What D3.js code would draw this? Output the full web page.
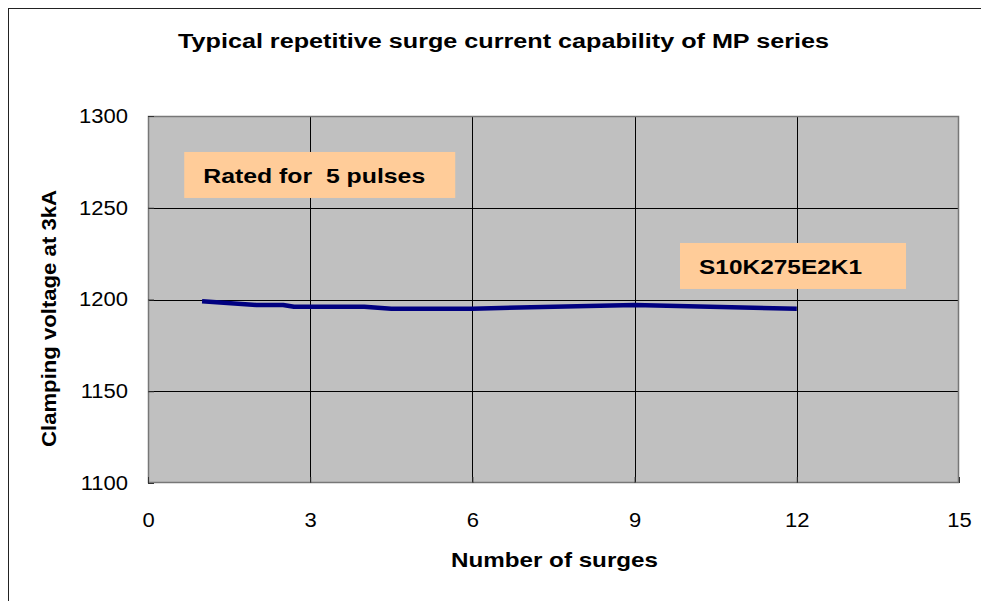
<!DOCTYPE html>
<html>
<head>
<meta charset="utf-8">
<script src="https://cdn.jsdelivr.net/npm/d3@7"></script>
<style>
    body { margin: 0; background: #fff; }
    svg text { font-family: Arial, "Liberation Sans", sans-serif; fill: #000; }
</style>
</head>
<body>
<svg width="981" height="601"></svg>
<script>
'use strict';

///////////////////////////// data ///////////////////////////
var surges = [1, 2, 2.5, 2.7, 4, 4.5, 6, 9, 12];
var clampVoltage = [1199, 1197, 1197, 1196, 1196, 1195, 1195, 1197, 1195];
var xTicks = [0, 3, 6, 9, 12, 15];
var yTicks = [1100, 1150, 1200, 1250, 1300];
var titleText = 'Typical repetitive surge current capability of MP series';
var xLabel = 'Number of surges';
var yLabel = 'Clamping voltage at 3kA';
var notes = [
    {text: 'Rated for  5 pulses', x: 0.67, y: 1280.4},
    {text: 'S10K275E2K1', x: 9.84, y: 1230.8}
];

///////////////////////////// set up ///////////////////////////
var svg = d3.select('svg');
var plotLeft = 148, plotRight = 959, plotTop = 116, plotBottom = 483;

var x = d3.scaleLinear().domain([0, 15]).range([plotLeft, plotRight]);
var y = d3.scaleLinear().domain([1100, 1300]).range([plotBottom, plotTop]);

// outer chart border (runs off the right/bottom edge)
svg.append('rect')
    .attr('x', 8.5).attr('y', 8.5)
    .attr('width', 1000).attr('height', 1000)
    .attr('fill', 'none')
    .attr('stroke', '#222')
    .attr('stroke-width', 1);

// plot area
svg.append('rect')
    .attr('x', plotLeft).attr('y', plotTop)
    .attr('width', plotRight - plotLeft).attr('height', plotBottom - plotTop)
    .attr('fill', '#c0c0c0');

// grid
svg.append('g')
    .selectAll('line')
    .data(xTicks.slice(1, -1))
    .enter().append('line')
    .attr('x1', function(d) { return Math.round(x(d)) + 0.5; })
    .attr('x2', function(d) { return Math.round(x(d)) + 0.5; })
    .attr('y1', plotTop).attr('y2', plotBottom)
    .attr('stroke', '#000').attr('stroke-width', 1);
svg.append('g')
    .selectAll('line')
    .data(yTicks.slice(1, -1))
    .enter().append('line')
    .attr('y1', function(d) { return Math.round(y(d)) + 0.5; })
    .attr('y2', function(d) { return Math.round(y(d)) + 0.5; })
    .attr('x1', plotLeft).attr('x2', plotRight)
    .attr('stroke', '#000').attr('stroke-width', 1);

svg.append('rect')
    .attr('x', plotLeft + 0.5).attr('y', plotTop + 0.5)
    .attr('width', plotRight - plotLeft - 1).attr('height', plotBottom - plotTop - 1)
    .attr('fill', 'none')
    .attr('stroke', '#777')
    .attr('stroke-width', 1.5);

// axes: short inner ticks, labels outside
var yAxis = svg.append('g')
    .attr('transform', 'translate(' + plotLeft + ',0)')
    .call(d3.axisLeft(y).tickValues(yTicks).tickFormat(d3.format('d')).tickSize(-6).tickPadding(20));
var xAxis = svg.append('g')
    .attr('transform', 'translate(0,' + plotBottom + ')')
    .call(d3.axisBottom(x).tickValues(xTicks).tickFormat(d3.format('d')).tickSize(-6).tickPadding(30));
[yAxis, xAxis].forEach(function(ax) {
    ax.select('.domain').remove();
    ax.selectAll('.tick line').attr('stroke', '#333');
    ax.selectAll('.tick text')
        .attr('font-size', 20)
        .attr('font-family', 'Arial, "Liberation Sans", sans-serif')
        .attr('fill', '#000');
});

// stretch text horizontally a bit, like the reference
function stretch(sel, k) {
    sel.each(function() {
        var w = this.getComputedTextLength();
        d3.select(this).attr('textLength', w * k).attr('lengthAdjust', 'spacingAndGlyphs');
    });
}
stretch(yAxis.selectAll('.tick text'), 1.1);
stretch(xAxis.selectAll('.tick text'), 1.1);

// series line
var line = d3.line()
    .x(function(d) { return x(d[0]); })
    .y(function(d) { return y(d[1]); });
svg.append('path')
    .datum(d3.zip(surges, clampVoltage))
    .attr('d', line)
    .attr('fill', 'none')
    .attr('stroke', '#000080')
    .attr('stroke-width', 4.5)
    .attr('stroke-linejoin', 'round');

// note boxes
var noteSize = [{w: 271, h: 46, tl: 222}, {w: 226, h: 46, tl: 163}];
var noteG = svg.selectAll('.note')
    .data(notes)
    .enter().append('g')
    .attr('class', 'note')
    .attr('transform', function(d) { return 'translate(' + x(d.x) + ',' + y(d.y) + ')'; });
noteG.append('rect')
    .attr('width', function(d, i) { return noteSize[i].w; })
    .attr('height', function(d, i) { return noteSize[i].h; })
    .attr('fill', '#ffcc99');
noteG.append('text')
    .attr('x', 19).attr('y', 31)
    .attr('font-size', 21)
    .attr('font-weight', 'bold')
    .style('white-space', 'pre')
    .attr('textLength', function(d, i) { return noteSize[i].tl; })
    .attr('lengthAdjust', 'spacingAndGlyphs')
    .text(function(d) { return d.text; });

// title + axis labels
svg.append('text')
    .attr('x', 178).attr('y', 48)
    .attr('font-size', 20)
    .attr('font-weight', 'bold')
    .attr('textLength', 651)
    .attr('lengthAdjust', 'spacingAndGlyphs')
    .text(titleText);

svg.append('text')
    .attr('x', 451).attr('y', 567)
    .attr('font-size', 21)
    .attr('font-weight', 'bold')
    .attr('textLength', 207)
    .attr('lengthAdjust', 'spacingAndGlyphs')
    .text(xLabel);

svg.append('text')
    .attr('transform', 'translate(56,447) rotate(-90)')
    .attr('font-size', 21)
    .attr('font-weight', 'bold')
    .attr('textLength', 257)
    .attr('lengthAdjust', 'spacingAndGlyphs')
    .text(yLabel);
</script>
</body>
</html>
